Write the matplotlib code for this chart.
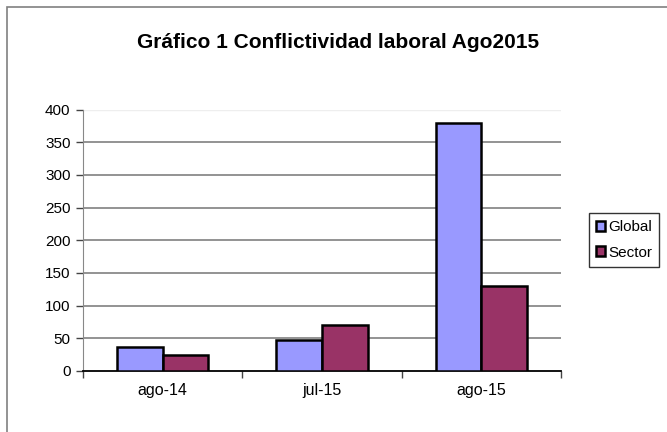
import matplotlib.pyplot as plt
import numpy as np
from matplotlib.patches import Rectangle

plt.rcParams['font.family'] = ['Liberation Sans', 'DejaVu Sans']

# data
categories = ['ago-14', 'jul-15', 'ago-15']
global_vals = [37, 47, 379]
sector_vals = [24, 70, 130]
series_names = ['Global', 'Sector']
yticks = [0, 50, 100, 150, 200, 250, 300, 350, 400]

fig = plt.figure(figsize=(6.67, 4.32), dpi=100)
# outer chart border
fig.patches.append(Rectangle((7 / 667, -0.1), 1.2, (432 - 7) / 432 + 0.1,
                             transform=fig.transFigure, fill=False,
                             edgecolor='#808080', linewidth=1.2))

ax = fig.add_axes([83 / 667, 1 - 371 / 432, (561 - 83) / 667, (371 - 109.5) / 432])

x = np.arange(len(categories))
w = 0.286
ax.bar(x - w / 2, global_vals, w, color='#9999FF', edgecolor='black', linewidth=1.8,
       label=series_names[0], zorder=3)
ax.bar(x + w / 2, sector_vals, w, color='#993366', edgecolor='black', linewidth=1.8,
       label=series_names[1], zorder=3)

ax.set_xlim(-0.5, len(categories) - 0.5)
ax.set_ylim(0, 400)
ax.set_yticks(yticks)
ax.tick_params(axis='y', labelsize=11, length=5, width=1, color='#444444', pad=4)
ax.set_xticks(x)
ax.set_xticklabels(categories)
ax.tick_params(axis='x', length=0, labelsize=11.5, pad=9)
ax.set_xticks(np.arange(len(categories) + 1) - 0.5, minor=True)
ax.tick_params(axis='x', which='minor', length=5, width=1, color='#444444')

for yv in yticks[1:-1]:
    ax.axhline(yv, color='#808080', linewidth=1.2, zorder=1)
ax.axhline(400, color='#eeeeee', linewidth=1, zorder=1)

for s in ['top', 'right']:
    ax.spines[s].set_visible(False)
ax.spines['left'].set_color('#888888')
ax.spines['bottom'].set_color('black')
ax.spines['bottom'].set_linewidth(1.3)

fig.text(338 / 667, 1 - 43 / 432, 'Gráfico 1 Conflictividad laboral Ago2015',
         ha='center', va='center', fontsize=15, fontweight='bold')

leg = fig.legend(loc='center', bbox_to_anchor=(624 / 667, 1 - 240 / 432),
                 fontsize=11, frameon=True, fancybox=False, handlelength=0.6,
                 handleheight=0.6, handletextpad=0.2, borderpad=0.45,
                 labelspacing=0.75)
leg.get_frame().set_edgecolor('black')
leg.get_frame().set_linewidth(1)

fig.savefig('out.png', dpi=100)
